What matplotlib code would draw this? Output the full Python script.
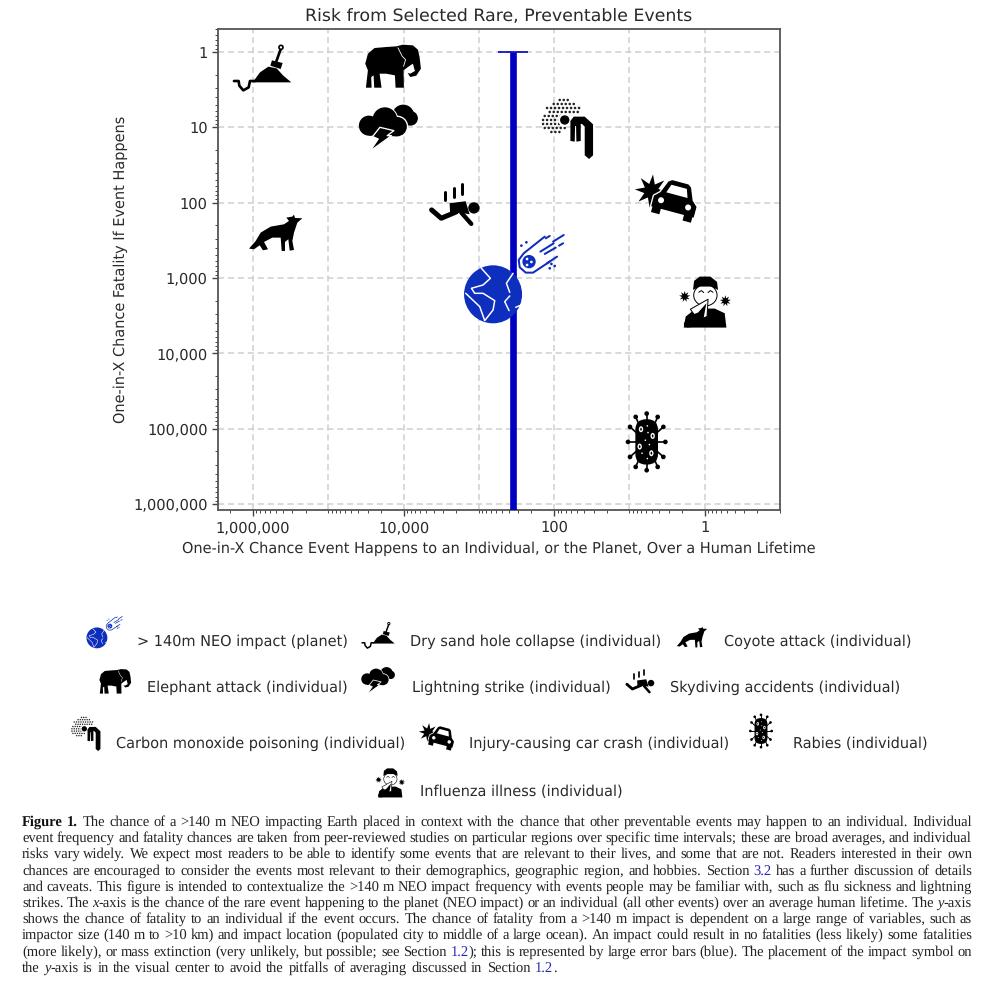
import re
import numpy as np
import matplotlib
matplotlib.use('Agg')
import matplotlib.pyplot as plt
from matplotlib.patches import Polygon, Circle, PathPatch, Ellipse, FancyBboxPatch
from matplotlib.path import Path
from matplotlib.ticker import FixedLocator, LogLocator, FuncFormatter, NullFormatter
from matplotlib.transforms import Affine2D, ScaledTranslation

plt.rcParams['text.hinting'] = 'no_hinting'

# values
events = ['neo', 'sand', 'coyote', 'elephant', 'lightning', 'skydiving',
          'carbon', 'car', 'rabies', 'flu']
event_x = [355, 760000, 500000, 14000, 16000, 2100, 66, 3.2, 5.9, 1]
event_y = [1000, 1.6, 250, 1.6, 10, 105, 10, 80, 150000, 2100]
labels = ['> 140m NEO impact (planet)', 'Dry sand hole collapse (individual)',
          'Coyote attack (individual)', 'Elephant attack (individual)',
          'Lightning strike (individual)', 'Skydiving accidents (individual)',
          'Carbon monoxide poisoning (individual)', 'Injury-causing car crash (individual)',
          'Rabies (individual)', 'Influenza illness (individual)']
neo_err_top = 1
neo_err_bottom = 1e7
y_ticks = [1, 10, 100, 1000, 10000, 100000, 1000000]
x_ticks = [1000000, 10000, 100, 1]
x_grid_extra = [100000, 1000, 10]

title = 'Risk from Selected Rare, Preventable Events'
xlabel = 'One-in-X Chance Event Happens to an Individual, or the Planet, Over a Human Lifetime'
ylabel = 'One-in-X Chance Fatality If Event Happens'

caption = [
    '**Figure** **1.** The chance of a >140 m NEO impacting Earth placed in context with the chance that other preventable events may happen to an individual. Individual',
    'event frequency and fatality chances are taken from peer-reviewed studies on particular regions over specific time intervals; these are broad averages, and individual',
    'risks vary widely. We expect most readers to be able to identify some events that are relevant to their lives, and some that are not. Readers interested in their own',
    'chances are encouraged to consider the events most relevant to their demographics, geographic region, and hobbies. Section [3.2] has a further discussion of details',
    'and caveats. This figure is intended to contextualize the >140 m NEO impact frequency with events people may be familiar with, such as flu sickness and lightning',
    'strikes. The _x_-axis is the chance of the rare event happening to the planet (NEO impact) or an individual (all other events) over an average human lifetime. The _y_-axis',
    'shows the chance of fatality to an individual if the event occurs. The chance of fatality from a >140 m impact is dependent on a large range of variables, such as',
    'impactor size (140 m to >10 km) and impact location (populated city to middle of a large ocean). An impact could result in no fatalities (less likely) some fatalities',
    '(more likely), or mass extinction (very unlikely, but possible; see Section [1.2]); this is represented by large error bars (blue). The placement of the impact symbol on',
    'the _y_-axis is in the visual center to avoid the pitfalls of averaging discussed in Section [1.2].',
]

BLUE = '#0000c4'
EARTH = '#0e2ebd'
TEXT = '#2a2a2a'


# icon helpers, outlines are traced at 3x and given relative to the icon centre
def shape(pts, origin, fc='black', ec='none', lw=0):
    return Polygon(np.array(pts, float) - origin, closed=True, fc=fc, ec=ec, lw=lw, joinstyle='round')


def stroke(pts, origin, c='black', lw=6):
    return PathPatch(Path(np.array(pts, float) - origin), fill=False, ec=c, lw=lw,
                     capstyle='round', joinstyle='round')


def dot(xy, r, origin, fc='black', ec='none', lw=0):
    return Circle(np.array(xy, float) - origin, r, fc=fc, ec=ec, lw=lw)


def star(cx, cy, ro, ri, n, start=0.0):
    ang = start + np.arange(2 * n) * np.pi / n
    rad = np.where(np.arange(2 * n) % 2 == 0, ro, ri)
    return np.c_[cx + rad * np.sin(ang), cy - rad * np.cos(ang)]


def icon_neo():
    o = (189, 594)
    out = [dot((130, 643), 87, o, fc=EARTH)]
    for line in [[(95, 565), (122, 595), (100, 615), (65, 625), (75, 640), (100, 640), (135, 662), (130, 690), (105, 722), (90, 680), (48, 640)],
                 [(190, 580), (170, 610), (180, 637)],
                 [(180, 648), (165, 665), (178, 692)],
                 [(198, 682), (215, 675)]]:
        out.append(stroke(line, o, c='white', lw=4.5))
    out.append(stroke([(285, 470), (222, 520), (207, 540), (210, 562), (228, 578), (250, 578), (300, 545)], o, c=EARTH, lw=6))
    out.append(dot((238, 545), 20, o, fc=EARTH))
    for xy in [(232, 537), (245, 546), (232, 555)]:
        out.append(dot(xy, 4, o, fc='white'))
    for line in [[(342, 465), (310, 485)], [(300, 468), (288, 475)], [(340, 490), (328, 497)],
                 [(312, 490), (272, 515)], [(318, 503), (285, 522)], [(322, 530), (292, 550)]]:
        out.append(stroke(line, o, c=EARTH, lw=6))
    for xy in [(215, 497), (230, 487), (305, 552), (300, 565), (315, 558)]:
        out.append(dot(xy, 4, o, fc=EARTH))
    return out


def icon_sand():
    o = (186, 145)
    return [shape([(158, 190), (180, 160), (205, 143), (230, 148), (250, 170), (274, 190)], o),
            stroke([(243, 88), (228, 130)], o, lw=8),
            dot((243, 85), 6, o, fc='white', ec='black', lw=5),
            shape([(216, 124), (248, 132), (242, 150), (211, 140)], o),
            stroke([(102, 186), (116, 186), (118, 200), (130, 214), (146, 205), (150, 186), (165, 186)], o, lw=8)]


def icon_coyote():
    o = (230, 640)
    return [shape([(150, 688), (170, 665), (185, 640), (215, 622), (255, 615), (270, 605), (262, 595), (280, 592),
                   (285, 586), (288, 596), (310, 597), (295, 610), (285, 640), (280, 665), (285, 692), (272, 694),
                   (268, 660), (258, 668), (258, 695), (248, 695), (245, 655), (220, 655), (195, 668), (207, 690),
                   (192, 693), (182, 678), (165, 690)], o)]


def icon_elephant():
    o = (579, 141)
    return [shape([(497, 130), (505, 100), (525, 83), (560, 80), (590, 78), (610, 73), (640, 75), (655, 88), (660, 110),
                   (664, 145), (650, 166), (632, 170), (624, 158), (632, 160), (646, 152), (640, 130), (625, 140), (612, 150),
                   (613, 202), (588, 202), (586, 165), (560, 160), (540, 160), (546, 202), (524, 202), (522, 165), (515, 170),
                   (516, 202), (499, 202), (505, 150)], o),
            stroke([(595, 82), (608, 108), (618, 118), (612, 138)], o, c='white', lw=2.5)]


def icon_lightning():
    o = (565, 320)
    out = [dot((610, 285), 33, o), dot((632, 293), 22, o)]
    for xy, r in [((555, 297), 40), ((592, 318), 33)]:
        out.append(dot(xy, r, o, fc='white'))
    for xy, r in [((507, 315), 30), ((555, 297), 37), ((592, 318), 29)]:
        out.append(dot(xy, r, o))
    out.append(shape([(507, 315), (592, 315), (592, 347), (507, 345)], o))
    out.append(shape([(540, 320), (582, 330), (562, 345), (575, 345), (510, 392), (535, 355), (518, 348)], o, ec='white', lw=4))
    return out


def icon_skydiving():
    o = (765, 555)
    return [dot((823, 566), 17, o),
            shape([(750, 552), (798, 546), (810, 585), (780, 580), (752, 590)], o),
            stroke([(696, 572), (725, 597), (770, 578)], o, lw=15),
            stroke([(785, 580), (815, 614)], o, lw=13),
            stroke([(736, 517), (736, 543)], o, lw=9),
            stroke([(762, 507), (762, 533)], o, lw=9),
            stroke([(788, 495), (788, 523)], o, lw=9)]


def icon_carbon():
    o = (354, 144)
    out = []
    for row, (y, x0, x1) in enumerate([(62, 330, 360), (74, 312, 376), (86, 292, 398), (98, 300, 388), (110, 285, 345),
                                       (122, 280, 330), (134, 280, 345), (146, 285, 345), (158, 305, 340)]):
        for x in np.arange(x0, x1 + 1, 12):
            out.append(dot((x, y), 3.8, o, fc='#222222'))
    out.append(dot((345, 122), 20, o, fc='white'))
    out.append(dot((345, 122), 14, o))
    out.append(shape([(362, 125), (372, 112), (405, 112), (430, 135), (430, 228), (418, 239), (405, 228), (405, 142), (397, 134),
                      (393, 134), (393, 185), (380, 187), (379, 140), (376, 140), (375, 187), (362, 185)], o))
    return out


def icon_car():
    o = (651, 345)
    rot = Affine2D().rotate_deg(15).translate(678, 358)
    body = rot.transform([(-66, 5), (-50, -10), (-35, -47), (-25, -54), (25, -54), (35, -47), (50, -10), (66, 5), (66, 38), (-66, 38)])
    window = rot.transform([(-24, -40), (24, -40), (33, -14), (-33, -14)])
    w1 = rot.transform([(-62, 30), (-36, 30), (-36, 55), (-62, 55)])
    w2 = rot.transform([(36, 30), (62, 30), (62, 55), (36, 55)])
    return [shape(star(605, 332, 50, 22, 8, 0.1), o),
            shape(body, o, ec='white', lw=8),
            shape(body, o),
            shape(window, o, fc='white'),
            shape(w1, o), shape(w2, o),
            dot(rot.transform((-42, 13)), 9, o, fc='white'),
            dot(rot.transform((42, 13)), 9, o, fc='white')]


def icon_rabies():
    o = np.zeros(2)
    out = []
    for sx, sy in [(0, -85), (-33, -75), (33, -75), (-50, -45), (50, -45), (-56, 0), (56, 0),
                   (-50, 45), (50, 45), (-33, 75), (33, 75), (0, 85)]:
        out.append(stroke([(sx * 0.3, sy * 0.3), (sx, sy)], o, lw=5))
        out.append(dot((sx, sy), 7, o))
    out.append(FancyBboxPatch((-34, -68), 68, 136, boxstyle='round,pad=0,rounding_size=32', fc='black', ec='none'))
    for xy in [(-17, -38), (18, -18), (-21, 14), (14, 34)]:
        out.append(Ellipse(xy, 13, 18, fc='white', ec='none'))
        out.append(Ellipse(xy, 5, 9, fc='black', ec='none'))
    for xy in [(2, -48), (4, -28), (-4, -5), (8, 8), (-14, 34), (2, 50)]:
        out.append(dot(xy, 2.4, o, fc='white'))
    return out


def icon_flu():
    o = (765, 669)
    out = [shape(star(705, 652, 17, 8, 9), o), shape(star(827, 665, 17, 8, 9), o),
           shape([(702, 745), (708, 712), (738, 688), (795, 688), (825, 702), (830, 745)], o),
           Ellipse(np.array((767, 648)) - o, 70, 64, fc='white', ec='black', lw=3),
           shape([(730, 632), (733, 605), (750, 592), (782, 592), (802, 608), (805, 632), (785, 622), (750, 622)], o)]
    for pts in [[(747, 639), (755, 634), (762, 640)], [(775, 640), (782, 634), (790, 639)]]:
        out.append(stroke(pts, o, lw=3))
    out.append(shape([(775, 660), (722, 690), (745, 722), (772, 712)], o, fc='white', ec='black', lw=3))
    out.append(shape([(745, 700), (770, 672), (762, 715), (738, 742), (712, 745), (702, 735), (712, 712)], o))
    out.append(stroke([(735, 690), (758, 680)], o, c='white', lw=3))
    return out


icons = {'neo': icon_neo, 'sand': icon_sand, 'coyote': icon_coyote, 'elephant': icon_elephant,
         'lightning': icon_lightning, 'skydiving': icon_skydiving, 'carbon': icon_carbon, 'car': icon_car,
         'rabies': icon_rabies, 'flu': icon_flu}


def place(host, name, x, y, scale=1.0):
    k = scale / 3.0
    trans = Affine2D().scale(k, -k) + ScaledTranslation(x, y, host.transData)
    for p in icons[name]():
        p.set_linewidth(p.get_linewidth() * k * 0.72)
        p.set_transform(trans)
        p.set_clip_on(False)
        p.set_zorder(5)
        host.add_artist(p)


fig = plt.figure(figsize=(10, 9.85), dpi=100)
ax = fig.add_axes([0.218, 1 - 510 / 985, 0.562, 481 / 985])
ax.set_xscale('log')
ax.set_yscale('log')
ax.set_xlim(10 ** 6.465, 10 ** -1.0)
ax.set_ylim(10 ** 6.08, 10 ** -0.305)

ax.xaxis.set_major_locator(FixedLocator(x_ticks))
ax.yaxis.set_major_locator(FixedLocator(y_ticks))
fmt = FuncFormatter(lambda v, pos: f'{int(round(v)):,}')
ax.xaxis.set_major_formatter(fmt)
ax.yaxis.set_major_formatter(fmt)
ax.xaxis.set_minor_locator(LogLocator(base=10, subs=np.arange(1, 10), numticks=20))
ax.yaxis.set_minor_locator(LogLocator(base=10, subs=np.arange(2, 10), numticks=20))
ax.xaxis.set_minor_formatter(NullFormatter())
ax.yaxis.set_minor_formatter(NullFormatter())
ax.tick_params(axis='both', which='major', labelsize=10.5, labelcolor=TEXT, length=4, width=1, color='#444444')
ax.tick_params(axis='both', which='minor', length=2, width=0.7, color='#444444')

grid_kw = dict(color='#cfcfcf', lw=1.1, ls=(0, (4, 2.5)), zorder=1)
ax.grid(True, which='major', **grid_kw)
for v in x_grid_extra:
    ax.axvline(v, **grid_kw)
for s in ax.spines.values():
    s.set_color('#555555')
    s.set_linewidth(1.3)

ax.errorbar([event_x[0]], [event_y[0]],
            yerr=[[event_y[0] - neo_err_top], [neo_err_bottom - event_y[0]]],
            fmt='none', ecolor=BLUE, elinewidth=4.8, capsize=11, capthick=1.2, zorder=3)

ax.set_title(title, fontsize=12.5, color=TEXT, pad=6)
ax.set_xlabel(xlabel, fontsize=10.47, color=TEXT, labelpad=4.5)
ax.set_ylabel(ylabel, fontsize=10.47, color=TEXT, labelpad=4)

for name, x, y in zip(events, event_x, event_y):
    place(ax, name, x, y)

# whole page overlay in pixel units for the legend rows and the caption
page = fig.add_axes([0, 0, 1, 1], facecolor='none')
page.set_xlim(0, 1000)
page.set_ylim(985, 0)
page.axis('off')

legend_icon_xy = [(104, 632), (378, 635), (692, 637), (115, 682), (378, 680), (640, 681),
                  (86, 733), (437, 735), (761, 731), (390, 783)]
legend_text_xy = [(137, 642), (410, 642), (724, 642), (147, 688), (412, 688), (670, 688),
                  (116, 744), (469, 744), (793, 744), (420, 792)]
legend_scale = {'neo': 0.36}

for name, lab, ixy, txy in zip(events, labels, legend_icon_xy, legend_text_xy):
    place(page, name, ixy[0], ixy[1], legend_scale.get(name, 0.57))
    page.text(txy[0], txy[1], lab, fontsize=10.45, color=TEXT, va='center', ha='left')

# caption is justified by hand, one word at a time
renderer = fig.canvas.get_renderer()
left, right = 22, 972
styles = {'b': dict(fontweight='bold', color='#111111'), 'i': dict(fontstyle='italic', color='#222222'),
          'l': dict(color='#2727b5'), 'n': dict(color='#222222')}


def word_runs(word):
    runs = []
    for b, i, l, n in re.findall(r'\*\*(.+?)\*\*|_(.+?)_|\[(.+?)\]|([^*_\[]+)', word):
        if b:
            runs.append((b, 'b'))
        elif i:
            runs.append((i, 'i'))
        elif l:
            runs.append((l, 'l'))
        else:
            runs.append((n, 'n'))
    return runs


for k, line in enumerate(caption):
    base = round(826 + k * 16.2)
    words = []
    for word in line.split(' '):
        arts = []
        for txt, st in word_runs(word):
            t = page.text(0, base, txt, fontsize=10.45, family='Liberation Serif', va='baseline', ha='left', **styles[st])
            # agg places the bitmap by its rounded size, undo that so a line keeps one baseline
            w, h, d = renderer.get_text_width_height_descent(txt, t.get_fontproperties(), False)
            t.set_y(base - d + np.floor(h) - np.floor(h - d))
            arts.append((t, t.get_window_extent(renderer).width))
        words.append(arts)
    total = sum(w for arts in words for _, w in arts)
    gap = (right - left - total) / (len(words) - 1) if k < len(caption) - 1 else 4.4
    x = left
    for arts in words:
        for t, w in arts:
            t.set_x(x)
            x += w
        x += gap

fig.savefig('out.png', dpi=100)
